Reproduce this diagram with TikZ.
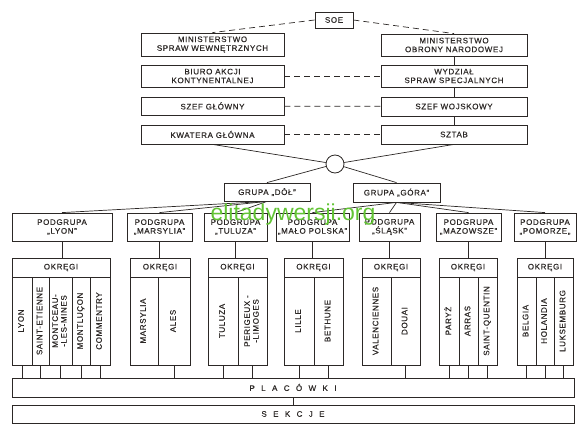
\documentclass[tikz,border=0pt]{standalone}
\usepackage{fontspec}
\setmainfont{Liberation Sans}
\newfontfamily\orgfont{Liberation Sans}[LetterSpace=8, FakeBold=0.5]
\usepackage{graphicx}
\definecolor{ink}{RGB}{44,40,38}
\definecolor{webgreen}{RGB}{98,196,52}
\tikzset{
	box/.style={draw=ink, line width=0.8pt, rectangle, inner sep=1pt, align=center, text=ink, font=\orgfont\fontsize{8}{8.8}\selectfont},
	col/.style={box, minimum height=88pt, inner sep=0pt},
	link/.style={draw=ink, line width=0.7pt},
	dashlink/.style={link, dash pattern=on 6pt off 4pt},
}
\newcommand{\upright}[1]{\rotatebox{90}{\begin{tabular}{@{}c@{}}#1\end{tabular}}}

\begin{document}
\begin{tikzpicture}[x=1pt, y=-1pt]
			%%%%% START %%%%%
			\useasboundingbox (0, 0) rectangle (584, 431);
			
			\node[box, minimum width=38, minimum height=16] (soe) at (334, 20) {SOE};
			
			\node[box, minimum width=143, minimum height=23] (msw) at (212.5, 44.5) {MINISTERSTWO\\SPRAW WEWNĘTRZNYCH};
			\node[box, minimum width=143, minimum height=22] (biuro) at (212.5, 76) {BIURO AKCJI\\KONTYNENTALNEJ};
			\node[box, minimum width=143, minimum height=18] (szg) at (212.5, 106) {SZEF GŁÓWNY};
			\node[box, minimum width=143, minimum height=19] (kwat) at (212.5, 134.5) {KWATERA GŁÓWNA};
			
			\node[box, minimum width=146, minimum height=22] (mon) at (454, 45) {MINISTERSTWO\\OBRONY NARODOWEJ};
			\node[box, minimum width=146, minimum height=22] (wss) at (454, 76) {WYDZIAŁ\\SPRAW SPECJALNYCH};
			\node[box, minimum width=146, minimum height=19] (szw) at (454, 106.5) {SZEF WOJSKOWY};
			\node[box, minimum width=146, minimum height=19] (sztab) at (454, 134.5) {SZTAB};
			
			\draw[dashlink] (soe.west) -- (msw.north);
			\draw[dashlink] (soe.east) -- (mon.north);
			\draw[dashlink] (biuro) -- (wss);
			\draw[dashlink] (szg) -- (szw);
			\draw[dashlink] (kwat) -- (sztab);
			\draw[link] (mon) -- (wss);
			\draw[link] (wss) -- (szw);
			\draw[link] (szw) -- (sztab);
			
			% the hub between both sides
			\node[draw=ink, line width=0.8pt, circle, minimum size=18, inner sep=0pt] (hub) at (335, 164) {};
			\node[box, minimum width=86, minimum height=18] (dol) at (267, 192) {GRUPA „DÓŁ”};
			\node[box, minimum width=87, minimum height=19] (gora) at (396.5, 192.5) {GRUPA „GÓRA”};
			
			\draw[link] (kwat.south) -- (hub);
			\draw[link] (sztab.south) -- (hub);
			\draw[link] (hub) -- (dol.north);
			\draw[link] (hub) -- (gora.north);
			
			% podgrupy
			\node[box, minimum width=100, minimum height=28] (pLyon) at (62, 227) {PODGRUPA\\„LYON”};
			\node[box, minimum width=65, minimum height=28] (pMars) at (159.5, 227) {PODGRUPA\\„MARSYLIA”};
			\node[box, minimum width=63, minimum height=28] (pTul) at (235.5, 227) {PODGRUPA\\„TULUZA”};
			\node[box, minimum width=73, minimum height=28] (pMalo) at (312.5, 227) {PODGRUPA\\„MAŁO POLSKA”};
			\node[box, minimum width=61, minimum height=28] (pSlask) at (389.5, 227) {PODGRUPA\\„ŚLĄSK”};
			\node[box, minimum width=65, minimum height=28] (pMaz) at (468.5, 227) {PODGRUPA\\„MAZOWSZE”};
			\node[box, minimum width=62, minimum height=28] (pPom) at (545, 227) {PODGRUPA\\„POMORZE„};
			
			\draw[link] (dol.south) -- (pLyon.north);
			\draw[link] (dol.south) -- (pMars.north);
			\draw[link] (dol.south) -- (pTul.north);
			\draw[link] (gora.south) -- (pMalo.north);
			\draw[link] (gora.south) -- (pSlask.north);
			\draw[link] (gora.south) -- (pMaz.north);
			\draw[link] (gora.south) -- (pPom.north);
			
			% okregi
			\node[box, minimum width=98, minimum height=19] (oLyon) at (61, 267.5) {OKRĘGI};
			\node[box, minimum width=60, minimum height=19] (oMars) at (160, 267.5) {OKRĘGI};
			\node[box, minimum width=59, minimum height=19] (oTul) at (237.5, 267.5) {OKRĘGI};
			\node[box, minimum width=59, minimum height=19] (oMalo) at (313.5, 267.5) {OKRĘGI};
			\node[box, minimum width=58, minimum height=19] (oSlask) at (391, 267.5) {OKRĘGI};
			\node[box, minimum width=58, minimum height=19] (oMaz) at (468, 267.5) {OKRĘGI};
			\node[box, minimum width=56, minimum height=19] (oPom) at (545, 267.5) {OKRĘGI};
			
			\draw[link] (pLyon) -- (pLyon |- oLyon.north);
			\draw[link] (pMars) -- (pMars |- oMars.north);
			\draw[link] (pTul) -- (pTul |- oTul.north);
			\draw[link] (pMalo) -- (pMalo |- oMalo.north);
			\draw[link] (pSlask) -- (pSlask |- oSlask.north);
			\draw[link] (pMaz) -- (pMaz |- oMaz.north);
			\draw[link] (pPom) -- (pPom |- oPom.north);
			
			\node[col, minimum width=20] (lyon) at (22, 321) {\upright{LYON}};
			\node[col, minimum width=17] (etienne) at (40.5, 321) {\upright{SAINT-ETIENNE}};
			\node[col, minimum width=23] (montceau) at (60.5, 321) {\upright{MONTCEAU-\\-LES-MINES}};
			\node[col, minimum width=18] (montlucon) at (81, 321) {\upright{MONTLUÇON}};
			\node[col, minimum width=20] (commentry) at (100, 321) {\upright{COMMENTRY}};
			
			\node[col, minimum width=28] (marsylia) at (144, 321) {\upright{MARSYLIA}};
			\node[col, minimum width=32] (ales) at (174, 321) {\upright{ALES}};
			
			\node[col, minimum width=30] (tuluza) at (223, 321) {\upright{TULUZA}};
			\node[col, minimum width=29] (perigeux) at (252.5, 321) {\upright{PERIGEUX -\\-LIMOGES}};
			
			\node[col, minimum width=30] (lille) at (299, 321) {\upright{LILLE}};
			\node[col, minimum width=29] (bethune) at (328.5, 321) {\upright{BETHUNE}};
			
			\node[col, minimum width=29] (valenc) at (376.5, 321) {\upright{VALENCIENNES}};
			\node[col, minimum width=29] (douai) at (405.5, 321) {\upright{DOUAI}};
			
			\node[col, minimum width=20] (paryz) at (449, 321) {\upright{PARYŻ}};
			\node[col, minimum width=19] (arras) at (468.5, 321) {\upright{ARRAS}};
			\node[col, minimum width=19] (quentin) at (487.5, 321) {\upright{SAINT-QUENTIN}};
			
			\node[col, minimum width=19] (belgia) at (526.5, 321) {\upright{BELGIA}};
			\node[col, minimum width=18] (holandia) at (545, 321) {\upright{HOLANDIA}};
			\node[col, minimum width=19] (luks) at (563.5, 321) {\upright{LUKSEMBURG}};
			
			% placowki and sekcje
			\node[box, minimum width=562, minimum height=19] (plac) at (293, 387.5) {\addfontfeature{LetterSpace=80}PLACÓWKI};
			\node[box, minimum width=562, minimum height=18] (sek) at (293, 414) {\addfontfeature{LetterSpace=80}SEKCJE};
			\draw[link] (plac) -- (sek);
			
			\draw[link] (lyon.south) -- (lyon.south |- plac.north);
			\draw[link] (etienne.south) -- (etienne.south |- plac.north);
			\draw[link] (montceau.south) -- (montceau.south |- plac.north);
			\draw[link] (montlucon.south) -- (montlucon.south |- plac.north);
			\draw[link] (commentry.south) -- (commentry.south |- plac.north);
			\draw[link] (ales.south) -- (ales.south |- plac.north);
			\draw[link] (tuluza.south) -- (tuluza.south |- plac.north);
			\draw[link] (perigeux.south) -- (perigeux.south |- plac.north);
			\draw[link] (lille.south) -- (lille.south |- plac.north);
			\draw[link] (bethune.south) -- (bethune.south |- plac.north);
			\draw[link] (douai.south) -- (douai.south |- plac.north);
			\draw[link] (paryz.south) -- (paryz.south |- plac.north);
			\draw[link] (arras.south) -- (arras.south |- plac.north);
			\draw[link] (quentin.south) -- (quentin.south |- plac.north);
			\draw[link] (belgia.south) -- (belgia.south |- plac.north);
			\draw[link] (holandia.south) -- (holandia.south |- plac.north);
			\draw[link] (luks.south) -- (luks.south |- plac.north);
			
			\node[text=webgreen, font=\fontsize{23}{23}\selectfont, anchor=base] (mark) at (293, 220) {elitadywersji.org};
			
			%%%%% END %%%%%
\end{tikzpicture}
\end{document}
